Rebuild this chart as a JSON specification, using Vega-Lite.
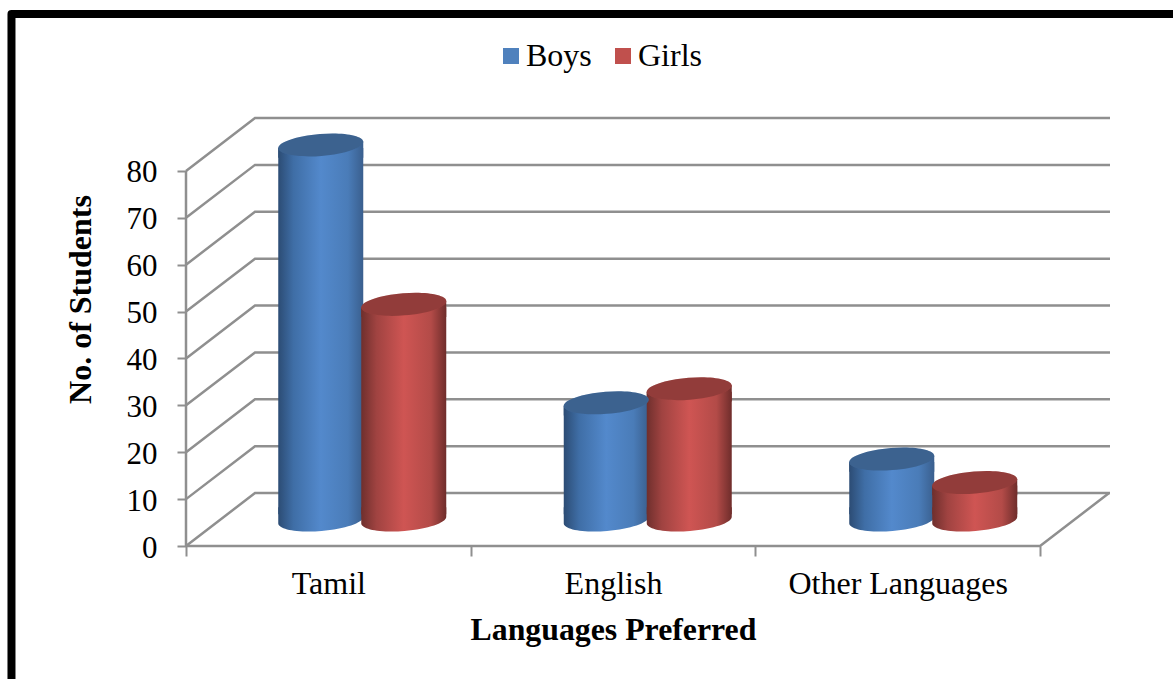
{"$schema":"https://vega.github.io/schema/vega-lite/v6.json","width":924,"height":428,"autosize":"none","padding":{"left":186,"top":118,"right":63,"bottom":133},"background":"white","config":{"view":{"stroke":null},"font":"Liberation Serif"},"datasets":{"students":[{"language":"Tamil","series":"Boys","n":80},{"language":"Tamil","series":"Girls","n":46},{"language":"English","series":"Boys","n":25},{"language":"English","series":"Girls","n":28},{"language":"Other Languages","series":"Boys","n":13},{"language":"Other Languages","series":"Girls","n":8}],"wall":[{"part":"g0","o":1,"x":0,"y":0},{"part":"g0","o":2,"x":0.2424,"y":11.3},{"part":"g0","o":3,"x":3.2456,"y":11.3},{"part":"g10","o":1,"x":0,"y":10},{"part":"g10","o":2,"x":0.2424,"y":21.3},{"part":"g10","o":3,"x":3.2456,"y":21.3},{"part":"g20","o":1,"x":0,"y":20},{"part":"g20","o":2,"x":0.2424,"y":31.3},{"part":"g20","o":3,"x":3.2456,"y":31.3},{"part":"g30","o":1,"x":0,"y":30},{"part":"g30","o":2,"x":0.2424,"y":41.3},{"part":"g30","o":3,"x":3.2456,"y":41.3},{"part":"g40","o":1,"x":0,"y":40},{"part":"g40","o":2,"x":0.2424,"y":51.3},{"part":"g40","o":3,"x":3.2456,"y":51.3},{"part":"g50","o":1,"x":0,"y":50},{"part":"g50","o":2,"x":0.2424,"y":61.3},{"part":"g50","o":3,"x":3.2456,"y":61.3},{"part":"g60","o":1,"x":0,"y":60},{"part":"g60","o":2,"x":0.2424,"y":71.3},{"part":"g60","o":3,"x":3.2456,"y":71.3},{"part":"g70","o":1,"x":0,"y":70},{"part":"g70","o":2,"x":0.2424,"y":81.3},{"part":"g70","o":3,"x":3.2456,"y":81.3},{"part":"g80","o":1,"x":0,"y":80},{"part":"g80","o":2,"x":0.2424,"y":91.3},{"part":"g80","o":3,"x":3.2456,"y":91.3},{"part":"floor","o":1,"x":0,"y":0},{"part":"floor","o":2,"x":3,"y":0},{"part":"floor","o":3,"x":3.2424,"y":11.3},{"part":"axis","o":1,"x":0,"y":0},{"part":"axis","o":2,"x":0,"y":80}],"frame":[{"o":1,"x":-0.613,"y":-32},{"o":2,"x":-0.613,"y":113.5},{"o":3,"x":3.5,"y":113.5}]},"layer":[{"layer":[{"data":{"name":"wall"},"mark":{"type":"line","stroke":"#8f8f8f","strokeWidth":2.5,"clip":false},"encoding":{"x":{"field":"x","type":"quantitative","axis":null,"scale":{"domain":[0,3.2456],"range":[0,924],"nice":false,"zero":false}},"y":{"field":"y","type":"quantitative","scale":{"domain":[0,91.3],"range":[428,0],"nice":false},"axis":{"values":[0,10,20,30,40,50,60,70,80],"domain":false,"grid":false,"ticks":true,"tickColor":"#8f8f8f","tickWidth":2,"tickSize":9,"labelFont":"Liberation Serif","labelFontSize":31,"labelColor":"black","labelPadding":20,"labelOffset":2,"title":"No. of Students","titleFont":"Liberation Serif","titleFontSize":32,"titleFontWeight":"bold","titleColor":"black","titleX":-89,"titleY":181}},"detail":{"field":"part"},"order":{"field":"o"}}},{"data":{"name":"frame"},"mark":{"type":"line","stroke":"black","strokeWidth":8,"strokeJoin":"round","clip":false},"encoding":{"x":{"field":"x","type":"quantitative"},"y":{"field":"y","type":"quantitative"},"order":{"field":"o"}}}]},{"data":{"name":"students"},"mark":{"type":"rule","opacity":0},"encoding":{"x":{"field":"language","type":"nominal","sort":["Tamil","English","Other Languages"],"scale":{"range":[0,854],"paddingInner":0,"paddingOuter":0},"axis":{"orient":"bottom","labelAngle":0,"labelLimit":400,"domain":false,"ticks":true,"tickBand":"extent","tickColor":"#8f8f8f","tickWidth":2,"tickSize":10,"labelFont":"Liberation Serif","labelFontSize":32,"labelColor":"black","labelPadding":12,"title":"Languages Preferred","titleFont":"Liberation Serif","titleFontSize":31.8,"titleFontWeight":"bold","titleColor":"black","titlePadding":15}}}},{"data":{"name":"students"},"encoding":{"x":{"field":"language","type":"nominal","sort":["Tamil","English","Other Languages"],"axis":null,"scale":{"range":[33.5,890],"paddingInner":0,"paddingOuter":0}},"xOffset":{"field":"series","type":"nominal","scale":{"paddingInner":0,"paddingOuter":0.72}}},"layer":[{"transform":[{"filter":"datum.series == 'Boys'"}],"mark":{"type":"point","filled":true,"opacity":1,"size":7225,"shape":"M-1,0.08 A1.003,0.26 -4.6 0 0 1,-0.08 L1,-0.3 L-1,-0.3 Z","fill":{"gradient":"linear","x1":0,"x2":1,"y1":0,"y2":0,"stops":[{"offset":0,"color":"#2c4c74"},{"offset":0.18,"color":"#3f6ea6"},{"offset":0.5,"color":"#5389cc"},{"offset":0.82,"color":"#4a7cb8"},{"offset":1,"color":"#3a5f8e"}]}},"encoding":{"y":{"datum":0,"type":"quantitative","axis":null,"scale":{"domain":[-5.55,85.75],"range":[428,0],"nice":false,"zero":false}}}},{"transform":[{"filter":"datum.series == 'Boys'"}],"mark":{"type":"bar","width":85,"yOffset":3,"fill":{"gradient":"linear","x1":0,"x2":1,"y1":0,"y2":0,"stops":[{"offset":0,"color":"#2c4c74"},{"offset":0.18,"color":"#3f6ea6"},{"offset":0.5,"color":"#5389cc"},{"offset":0.82,"color":"#4a7cb8"},{"offset":1,"color":"#3a5f8e"}]}},"encoding":{"y":{"field":"n","type":"quantitative","stack":null},"y2":{"datum":1.2}}},{"transform":[{"filter":"datum.series == 'Boys'"}],"mark":{"type":"point","filled":true,"opacity":1,"size":7225,"shape":"M-1,0.08 L-1,0.3 L1,0.3 L1,-0.08 Z","fill":{"gradient":"linear","x1":0,"x2":1,"y1":0,"y2":0,"stops":[{"offset":0,"color":"#2c4c74"},{"offset":0.18,"color":"#3f6ea6"},{"offset":0.5,"color":"#5389cc"},{"offset":0.82,"color":"#4a7cb8"},{"offset":1,"color":"#3a5f8e"}]}},"encoding":{"y":{"field":"n","type":"quantitative"}}},{"transform":[{"filter":"datum.series == 'Girls'"}],"mark":{"type":"point","filled":true,"opacity":1,"size":7225,"shape":"M-1,0.08 A1.003,0.26 -4.6 0 0 1,-0.08 L1,-0.3 L-1,-0.3 Z","fill":{"gradient":"linear","x1":0,"x2":1,"y1":0,"y2":0,"stops":[{"offset":0,"color":"#6f2f2d"},{"offset":0.18,"color":"#a04341"},{"offset":0.5,"color":"#cf5553"},{"offset":0.82,"color":"#b34b48"},{"offset":1,"color":"#6f2d2b"}]}},"encoding":{"y":{"datum":0,"type":"quantitative"}}},{"transform":[{"filter":"datum.series == 'Girls'"}],"mark":{"type":"bar","width":85,"yOffset":3,"fill":{"gradient":"linear","x1":0,"x2":1,"y1":0,"y2":0,"stops":[{"offset":0,"color":"#6f2f2d"},{"offset":0.18,"color":"#a04341"},{"offset":0.5,"color":"#cf5553"},{"offset":0.82,"color":"#b34b48"},{"offset":1,"color":"#6f2d2b"}]}},"encoding":{"y":{"field":"n","type":"quantitative","stack":null},"y2":{"datum":1.2}}},{"transform":[{"filter":"datum.series == 'Girls'"}],"mark":{"type":"point","filled":true,"opacity":1,"size":7225,"shape":"M-1,0.08 L-1,0.3 L1,0.3 L1,-0.08 Z","fill":{"gradient":"linear","x1":0,"x2":1,"y1":0,"y2":0,"stops":[{"offset":0,"color":"#6f2f2d"},{"offset":0.18,"color":"#a04341"},{"offset":0.5,"color":"#cf5553"},{"offset":0.82,"color":"#b34b48"},{"offset":1,"color":"#6f2d2b"}]}},"encoding":{"y":{"field":"n","type":"quantitative"}}},{"mark":{"type":"point","filled":true,"opacity":1,"size":7225,"shape":"M-1,0.08 A1.003,0.26 -4.6 0 1 1,-0.08 A1.003,0.26 -4.6 0 1 -1,0.08 Z"},"encoding":{"y":{"field":"n","type":"quantitative"},"color":{"field":"series","type":"nominal","scale":{"domain":["Boys","Girls"],"range":["#4F81BD","#C0504D"]},"legend":{"orient":"none","direction":"horizontal","legendX":309,"legendY":-78,"title":null,"symbolType":"square","symbolSize":256,"symbolStrokeWidth":0,"symbolOpacity":1,"labelFont":"Liberation Serif","labelFontSize":32,"labelColor":"black","labelOffset":-1,"columnPadding":15}}}},{"mark":{"type":"point","filled":true,"opacity":0.24,"fill":"black","size":7225,"shape":"M-1,0.08 A1.003,0.26 -4.6 0 1 1,-0.08 A1.003,0.26 -4.6 0 1 -1,0.08 Z"},"encoding":{"y":{"field":"n","type":"quantitative"}}}]}],"resolve":{"scale":{"x":"independent","y":"independent"}}}
